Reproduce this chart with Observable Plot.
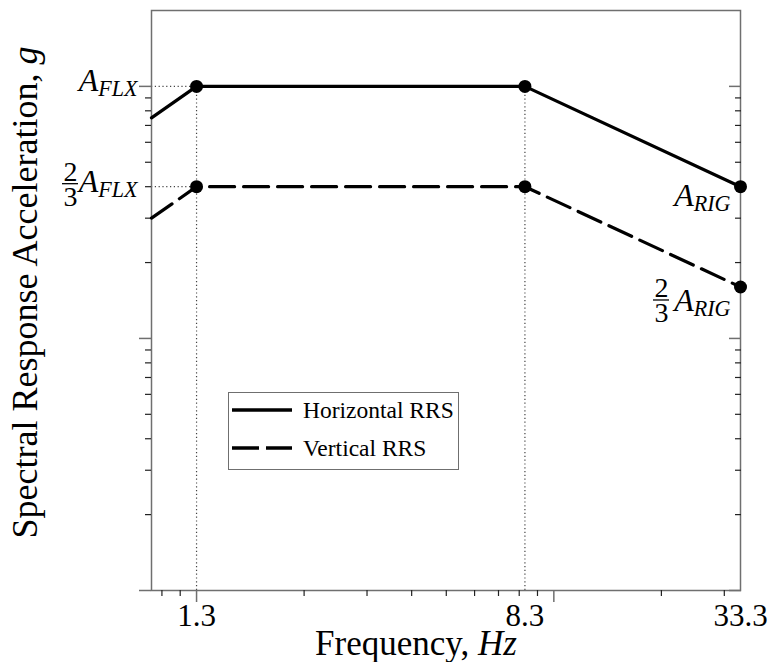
<!DOCTYPE html>
<html>
<head>
<meta charset="utf-8">
<script src="https://cdn.jsdelivr.net/npm/d3@7"></script>
<script src="https://cdn.jsdelivr.net/npm/@observablehq/plot@0.6"></script>
<style>
  html, body { margin: 0; padding: 0; background: #fff; }
  #wrap { position: relative; width: 772px; height: 662px; }
  #legend { position: absolute; left: 228px; top: 392px; width: 231px; height: 78px;
            border: 1.5px solid #6f6f6f; background: #fff; box-sizing: border-box; }
  #legend svg { display: block; }
</style>
</head>
<body>
<div id="wrap"></div>
<script>
// ---- data ----
const freq = [0.748, 1.0, 8.3, 33.3];          // Hz, positions along the log axis
const horizontalRRS = [75, 100, 100, 40];       // relative spectral acceleration
const verticalRRS = [30, 40, 40, 16];
const cornerFreq = [1.0, 8.3, 33.3];            // breakpoints marked with dots
const seriesNames = ["Horizontal RRS", "Vertical RRS"];
const xDomain = [0.748, 33.3];
const yDomain = [1, 200];
const xTickValues = [1.0, 8.3, 33.3];
const xTickLabels = ["1.3", "8.3", "33.3"];
const xMajorTicks = [1, 10];
const xMinorTicks = [0.8, 0.9, 2, 3, 4, 5, 6, 7, 8, 9, 20, 30];
const yMajorTicks = [1, 10, 100];
const yMinorTicks = [2, 3, 4, 5, 6, 7, 8, 9, 20, 30, 40, 50, 60, 70, 80, 90];
const yLabelValues = [100, 40];                 // A_FLX, 2/3 A_FLX
const yLabelTexts = ["A_FLX", "A_FLX"];
const rightLabelTexts = ["A_RIG", "A_RIG"];
const fractionText = "2\n3";
const xTitle = "Frequency, |Hz";
const yTitle = "Spectral Response Acceleration, |g";

const toRows = (vals, name) => freq.map((f, i) => ({f, v: vals[i], s: name}));
const H = toRows(horizontalRRS, seriesNames[0]);
const V = toRows(verticalRRS, seriesNames[1]);
const corners = H.concat(V).filter(d => cornerFreq.includes(d.f));
const rightEnd = [horizontalRRS[3], verticalRRS[3]];

const serif = "'Liberation Serif', 'Times New Roman', 'DejaVu Serif', serif";
const gray = "#6f6f6f";
const dotStyle = {stroke: "#444", strokeWidth: 1.2, strokeDasharray: "1.2,2.6"};
const labelFont = 32, fracFont = 28;

const plot = Plot.plot({
  width: 772, height: 662,
  marginLeft: 151, marginRight: 32, marginTop: 10, marginBottom: 72,
  x: {type: "log", domain: xDomain},
  y: {type: "log", domain: yDomain},
  style: {fontFamily: serif, background: "white", color: "black", overflow: "visible"},
  marks: [
    // dotted guide lines
    Plot.ruleY(yLabelValues, {y: d => d, x1: xDomain[0], x2: cornerFreq[0], ...dotStyle}),
    Plot.ruleX(cornerFreq.slice(0, 2), {x: d => d, y1: yDomain[0], y2: horizontalRRS[1], ...dotStyle}),
    // frame and ticks
    Plot.frame({stroke: gray, strokeWidth: 1.5}),
    Plot.axisX(xMinorTicks, {anchor: "bottom", tickSize: 6, fill: "none", label: null, stroke: "#222", strokeWidth: 1.2}),
    Plot.axisX(xMajorTicks, {anchor: "bottom", tickSize: 12, fill: "none", label: null, stroke: gray, strokeWidth: 1.5}),
    Plot.axisY(yMinorTicks, {anchor: "left", tickSize: 6, fill: "none", label: null, stroke: "#222", strokeWidth: 1.2}),
    Plot.axisY(yMajorTicks, {anchor: "left", tickSize: 12, fill: "none", label: null, stroke: gray, strokeWidth: 1.5}),
    Plot.axisY(yMinorTicks, {anchor: "right", tickSize: 6, dx: -6, fill: "none", label: null, stroke: "#222", strokeWidth: 1.2}),
    Plot.axisY(yMajorTicks, {anchor: "right", tickSize: 12, dx: -12, fill: "none", label: null, stroke: gray, strokeWidth: 1.5}),
    // spectra
    Plot.line(H, {x: "f", y: "v", stroke: "black", strokeWidth: 3.2}),
    Plot.line(V, {x: "f", y: "v", stroke: "black", strokeWidth: 3.2, strokeDasharray: "25,9"}),
    Plot.dot(corners, {x: "f", y: "v", r: 6.5, fill: "black"}),
    // x tick labels
    Plot.text(xTickValues, {x: d => d, text: (d, i) => xTickLabels[i], frameAnchor: "bottom",
      lineAnchor: "bottom", dy: 35, fontSize: 31}),
    // left labels A_FLX and 2/3 A_FLX
    Plot.text(yLabelValues, {y: d => d, text: (d, i) => yLabelTexts[i], frameAnchor: "left",
      textAnchor: "end", lineAnchor: "bottom", dx: -14, dy: 5, fontSize: labelFont, fontStyle: "italic"}),
    Plot.text([yLabelValues[1]], {y: d => d, text: () => fractionText, frameAnchor: "left",
      textAnchor: "middle", lineAnchor: "bottom", lineHeight: 25 / fracFont, dx: -81, dy: 19, fontSize: fracFont}),
    Plot.ruleY([yLabelValues[1]], {y: d => d, insetLeft: -89, insetRight: 662, dy: -3, stroke: "black", strokeWidth: 1.3}),
    // right labels A_RIG and 2/3 A_RIG
    Plot.text([rightEnd[0]], {y: d => d, text: () => rightLabelTexts[0], frameAnchor: "right",
      textAnchor: "end", lineAnchor: "bottom", dx: -10, dy: 19, fontSize: labelFont, fontStyle: "italic"}),
    Plot.text([rightEnd[1]], {y: d => d, text: () => rightLabelTexts[1], frameAnchor: "right",
      textAnchor: "end", lineAnchor: "bottom", dx: -10, dy: 24, fontSize: labelFont, fontStyle: "italic"}),
    Plot.text([rightEnd[1]], {y: d => d, text: () => fractionText, frameAnchor: "right",
      textAnchor: "middle", lineAnchor: "bottom", lineHeight: 25 / fracFont, dx: -79, dy: 35, fontSize: fracFont}),
    Plot.ruleY([rightEnd[1]], {y: d => d, insetLeft: 502, insetRight: 71, dy: 13, stroke: "black", strokeWidth: 1.3}),
    // axis titles
    Plot.text([xTitle], {text: d => d, frameAnchor: "bottom", lineAnchor: "bottom", dx: -30, dy: 64, fontSize: 35}),
    Plot.text([yTitle], {text: d => d, frameAnchor: "left", textAnchor: "middle", lineAnchor: "bottom",
      rotate: -90, dx: -115, dy: -8, fontSize: 36})
  ]
});

// typographic post-processing: subscripts ("_") and italic tails ("|")
const NS = "http://www.w3.org/2000/svg";
plot.querySelectorAll("text").forEach(t => {
  if (t.children.length) return;
  const s = t.textContent;
  if (s.includes("_")) {
    const [base, sub] = s.split("_");
    t.textContent = base;
    const ts = document.createElementNS(NS, "tspan");
    ts.setAttribute("dy", "5");
    ts.setAttribute("font-size", "0.69em");
    ts.textContent = sub;
    t.appendChild(ts);
  } else if (s.includes("|")) {
    const [a, b] = s.split("|");
    t.textContent = a;
    const ts = document.createElementNS(NS, "tspan");
    ts.setAttribute("font-style", "italic");
    ts.textContent = b;
    t.appendChild(ts);
  }
});

const wrap = document.getElementById("wrap");
wrap.appendChild(plot);

// legend (overlay inside the plot area)
const legend = document.createElement("div");
legend.id = "legend";
const lw = 228, lh = 75;
const lsvg = d3.create("svg").attr("width", lw).attr("height", lh)
  .style("font-family", serif);
const rowsY = [17, 55];
seriesNames.forEach((name, i) => {
  lsvg.append("line").attr("x1", 3).attr("x2", 63).attr("y1", rowsY[i]).attr("y2", rowsY[i])
    .attr("stroke", "black").attr("stroke-width", 3.5)
    .attr("stroke-dasharray", i === 1 ? "27,7" : null);
  lsvg.append("text").attr("x", 74).attr("y", rowsY[i] + 8).attr("font-size", 23.5).text(name);
});
legend.appendChild(lsvg.node());
wrap.appendChild(legend);
</script>
</body>
</html>
